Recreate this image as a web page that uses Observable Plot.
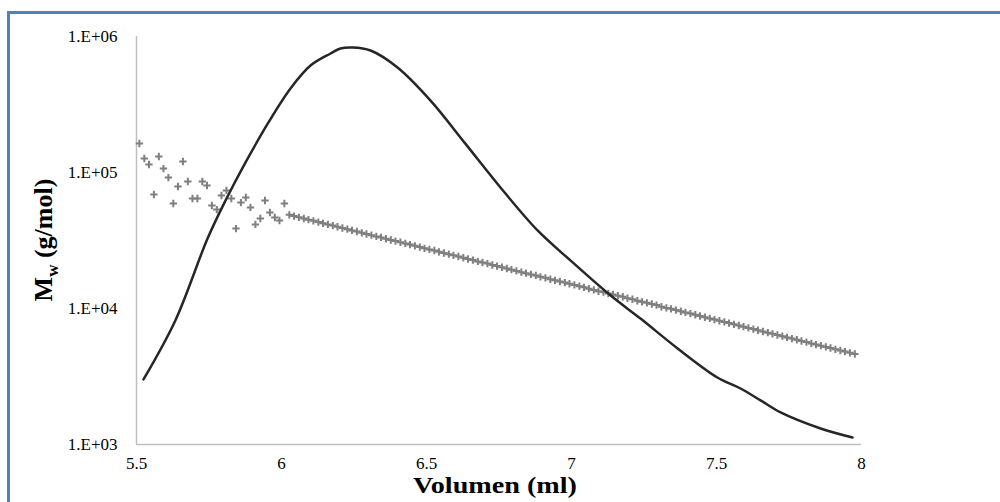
<!DOCTYPE html>
<html>
<head>
<meta charset="utf-8">
<script src="https://cdn.jsdelivr.net/npm/d3@7"></script>
<script src="https://cdn.jsdelivr.net/npm/@observablehq/plot@0.6"></script>
<style>
  html, body { margin: 0; padding: 0; background: #fff; overflow: hidden; width: 1000px; height: 502px; }
  #frame { position: absolute; left: 7px; top: 11px; width: 1200px; height: 800px;
           border-top: 3px solid #4f81bd; border-left: 3px solid #4f81bd; }
  #chart { position: absolute; left: 0; top: 0; }
</style>
</head>
<body>
<div id="frame"></div>
<div id="chart"></div>
<script>
// Elution volume (ml) of each Mw point
const volumes = [
  5.510,5.527,5.543, 5.560,5.577,5.593, 5.610,5.627,5.643, 5.660,5.677,5.693,
  5.710,5.727,5.743, 5.760,5.777,5.793, 5.810,5.827,5.843, 5.860,5.877,5.893,
  5.910,5.927,5.943, 5.960,5.977,5.993, 6.010,6.027,6.043, 6.060,6.077,6.093,
  6.110,6.127,6.143, 6.160,6.177,6.193, 6.210,6.227,6.243, 6.260,6.277,6.293,
  6.310,6.327,6.343, 6.360,6.377,6.393, 6.410,6.427,6.443, 6.460,6.477,6.493,
  6.510,6.527,6.543, 6.560,6.577,6.593, 6.610,6.627,6.643, 6.660,6.677,6.693,
  6.710,6.727,6.743, 6.760,6.777,6.793, 6.810,6.827,6.843, 6.860,6.877,6.893,
  6.910,6.927,6.943, 6.960,6.977,6.993, 7.010,7.027,7.043, 7.060,7.077,7.093,
  7.110,7.127,7.143, 7.160,7.177,7.193, 7.210,7.227,7.243, 7.260,7.277,7.293,
  7.310,7.327,7.343, 7.360,7.377,7.393, 7.410,7.427,7.443, 7.460,7.477,7.493,
  7.510,7.527,7.543, 7.560,7.577,7.593, 7.610,7.627,7.643, 7.660,7.677,7.693,
  7.710,7.727,7.743, 7.760,7.777,7.793, 7.810,7.827,7.843, 7.860,7.877,7.893,
  7.910,7.927,7.943, 7.960,7.977
];
// Mw (g/mol) at each volume (scatter "+")
const mwValues = [
  163300,126800,114600,68900,131200,106900,91800,59200,78900,120500,
  85900,64400,64400,85900,80200,57200,53400,67700,73800,64400,
  38700,60100,65500,55400,41500,45900,62200,50800,46700,44400,
  59200,
  48800,47800,46800,45900,45000,44100,43200,42300,41500,40700,
  39900,39100,38300,37500,36800,36000,35300,34600,33900,33300,
  32600,31900,31300,30700,30100,29500,28900,28300,27700,27200,
  26700,26100,25600,25100,24600,24100,23600,23100,22700,22200,
  21800,21400,20900,20500,20100,19700,19300,18900,18500,18200,
  17800,17500,17100,16800,16400,16100,15800,15500,15200,14900,
  14600,14300,14000,13700,13400,13200,12900,12700,12400,12200,
  11900,11700,11400,11200,11000,10800,10600,10300,10100,9940,
  9740,9550,9360,9170,8990,8810,8630,8460,8290,8130,
  7970,7810,7650,7500,7350,7200,7060,6920,6780,6640,
  6510,6380,6260,6130,6010,5890,5770,5660,5540,5430,
  5330,5220,5120,5010,4910,4820,4720,4630
];
// Detector trace (black curve), plotted on the same log axis
const traceVolumes = [5.524,5.634,5.745,5.807,5.876,5.955,6.031,6.100,6.169,6.203,6.245,6.307,6.400,6.514,6.634,6.755,6.883,6.997,7.134,7.238,7.366,7.503,7.583,7.652,7.721,7.859,7.969];
const traceValues  = [3006,8170,32700,62200,118600,233500,415000,612000,750000,816000,830000,789000,592000,338000,163000,77600,37500,22500,12500,8430,5080,3110,2580,2110,1720,1310,1125];

const xTicks = [5.5, 6, 6.5, 7, 7.5, 8];
const yTicks = [1e3, 1e4, 1e5, 1e6];
const yTickLabels = ["1.E+03", "1.E+04", "1.E+05", "1.E+06"];
const xTitle = "Volumen (ml)";
const yTitleMain = "M", yTitleSub = "w", yTitleRest = " (g/mol)";

const n = Math.min(volumes.length, mwValues.length);
const points = d3.range(n).map(i => ({v: volumes[i], mw: mwValues[i]}));
const trace = traceVolumes.map((v, i) => ({v, mw: traceValues[i]}));

const font = "'Liberation Serif', 'Times New Roman', serif";

const chart = Plot.plot({
  width: 1000, height: 502,
  marginLeft: 136, marginRight: 139, marginTop: 36, marginBottom: 58,
  style: {fontFamily: font, fontSize: "17px", color: "#000", background: "transparent", overflow: "visible"},
  x: {domain: [5.5, 8]},
  y: {type: "log", domain: [1e3, 1e6]},
  marks: [
    Plot.ruleY([1e3], {stroke: "#bfbfbf", strokeWidth: 1.5}),
    Plot.ruleX([5.5], {stroke: "#bfbfbf", strokeWidth: 1.5}),
    Plot.axisX(xTicks, {tickSize: 0, tickPadding: 12, tickFormat: d => String(d), label: null, fill: "#000", fontSize: 17}),
    Plot.axisY(yTicks, {tickSize: 0, tickPadding: 19, tickFormat: d => yTickLabels[yTicks.indexOf(d)], label: null, fill: "#000", fontSize: 17}),
    Plot.dot(points, {x: "v", y: "mw", symbol: "plus", r: 2.5, stroke: "#7f7f7f", strokeWidth: 2}),
    Plot.line(trace, {x: "v", y: "mw", curve: "catmull-rom", stroke: "#262626", strokeWidth: 2.5})
  ]
});
document.getElementById("chart").appendChild(chart);

const svg = d3.select(chart);
svg.append("text")
  .attr("x", 495).attr("y", 493)
  .attr("text-anchor", "middle")
  .attr("font-family", font).attr("font-weight", "bold").attr("font-size", 23)
  .attr("textLength", 164).attr("lengthAdjust", "spacingAndGlyphs")
  .attr("fill", "#000")
  .text(xTitle);

const yt = svg.append("text")
  .attr("transform", "translate(52,240) rotate(-90)")
  .attr("text-anchor", "middle")
  .attr("font-family", font).attr("font-weight", "bold").attr("font-size", 26)
  .attr("fill", "#000");
yt.append("tspan").text(yTitleMain);
yt.append("tspan").attr("font-size", 17).attr("dy", 6).text(yTitleSub);
yt.append("tspan").attr("dy", -6).text(yTitleRest);
</script>
</body>
</html>
